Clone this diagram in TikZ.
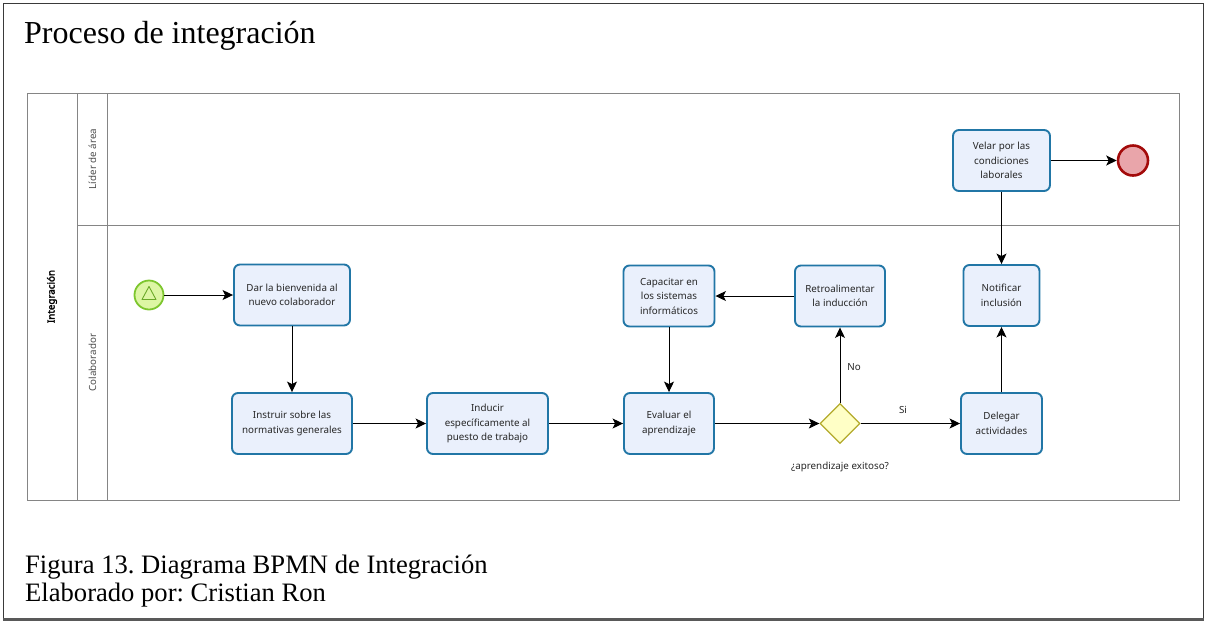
\documentclass[tikz,border=0pt]{standalone}
\usepackage{fontspec}
\setmainfont{Liberation Serif}
\newfontfamily\bpmnfont{Noto Sans}
\newfontfamily\bpmnbold[FakeBold=2.5]{Noto Sans}
\usetikzlibrary{shapes.geometric,arrows.meta,calc}

\definecolor{taskfill}{HTML}{EAF0FC}
\definecolor{taskline}{HTML}{2176A6}
\definecolor{startfill}{HTML}{DDF6A4}
\definecolor{startline}{HTML}{7DC62E}
\definecolor{endfill}{HTML}{E9A5AA}
\definecolor{endline}{HTML}{A30A0A}
\definecolor{gwfill}{HTML}{FFFFC6}
\definecolor{gwline}{HTML}{B3AA2A}
\definecolor{laneline}{HTML}{858585}
\definecolor{framecol}{HTML}{3A3A3A}

\tikzset{
  task/.style={draw=taskline, fill=taskfill, line width=1.9pt, rounded corners=6pt,
    align=center, inner sep=0pt, font=\bpmnfont\fontsize{9.8}{14.5}\selectfont,
    text=black!85},
  startev/.style={circle, draw=startline, fill=startfill, line width=1.8pt,
    minimum size=29pt, inner sep=0pt},
  endev/.style={circle, draw=endline, fill=endfill, line width=2.6pt,
    minimum size=30pt, inner sep=0pt},
  gateway/.style={diamond, draw=gwline, fill=gwfill, line width=1.3pt,
    minimum width=40pt, minimum height=40pt, inner sep=0pt},
  flow/.style={draw=black, line width=1pt,
    -{Stealth[length=10.5pt, width=10pt, inset=2.5pt]}},
  small/.style={font=\bpmnfont\fontsize{9.8}{12}\selectfont, text=black!85},
  lanelabel/.style={font=\bpmnfont\fontsize{9.8}{12}\selectfont, text=black!70, rotate=90},
  lane/.style={draw=laneline, line width=1pt},
}

\begin{document}
\frenchspacing
\begin{tikzpicture}[x=1pt, y=-1pt]
  \useasboundingbox (0,0) rectangle (1205,622);

  % outer frame
  \draw[framecol, line width=1.3pt] (3.5,3.5) rectangle (1203.5,619);
  \draw[black!65, line width=2.5pt] (3,619.5) -- (1204,619.5);

  % title and caption
  \node[anchor=base west, inner sep=0pt, font=\fontsize{32}{36}\selectfont] (title)
    at (24,43) {Proceso de integración};
  \node[anchor=base west, inner sep=0pt, font=\fontsize{26.6}{28.7}\selectfont] (cap1)
    at (25,573) {Figura 13. Diagrama BPMN de Integración};
  \node[anchor=base west, inner sep=0pt, font=\fontsize{26.6}{28.7}\selectfont] (cap2)
    at (25,601.5) {Elaborado por: Cristian Ron};

  % pool and lanes
  \draw[lane] (27,93) rectangle (1179,500.5);
  \draw[lane] (77.5,93) -- (77.5,500.5);
  \draw[lane] (107.5,93) -- (107.5,500.5);
  \draw[lane] (77.5,225) -- (1179,225);

  \node[lanelabel, font=\bpmnbold\fontsize{9.8}{12}\selectfont, text=black] (pool)
    at (52,296.5) {Integración};
  \node[lanelabel] (lane1) at (92.5,159) {Líder de área};
  \node[lanelabel] (lane2) at (92.5,362.5) {Colaborador};

  % events and gateway
  \node[startev] (start) at (149,295) {};
  \draw[startline!85!black, line width=0.9pt, line join=round]
    ($(start.center)+(0,-8.5)$) -- ++(7,13) -- ++(-14,0) -- cycle;
  \node[endev] (finish) at (1133,160.5) {};
  \node[gateway] (gw) at (840,423.5) {};

  % tasks
  \node[task, minimum width=116pt, minimum height=61pt] (t1) at (292,295)
    {Dar la bienvenida al\\nuevo colaborador};
  \node[task, minimum width=120pt, minimum height=61pt] (t2) at (292,423.5)
    {Instruir sobre las\\normativas generales};
  \node[task, minimum width=121pt, minimum height=61pt] (t3) at (487.5,423.5)
    {Inducir\\específicamente al\\puesto de trabajo};
  \node[task, minimum width=90pt, minimum height=61pt] (t4) at (669,423.5)
    {Evaluar el\\aprendizaje};
  \node[task, minimum width=91pt, minimum height=61pt] (t5) at (669,296)
    {Capacitar en\\los sistemas\\informáticos};
  \node[task, minimum width=90pt, minimum height=61pt] (t6) at (840,296)
    {Retroalimentar\\la inducción};
  \node[task, minimum width=76pt, minimum height=61pt] (t7) at (1001.5,295.5)
    {Notificar\\inclusión};
  \node[task, minimum width=81pt, minimum height=61pt] (t8) at (1001.5,423.5)
    {Delegar\\actividades};
  \node[task, minimum width=97pt, minimum height=61pt] (t9) at (1001.5,160.5)
    {Velar por las\\condiciones\\laborales};

  % sequence flows
  \draw[flow] (start) -- (t1);
  \draw[flow] (t1) -- (t2);
  \draw[flow] (t2) -- (t3);
  \draw[flow] (t3) -- (t4);
  \draw[flow] (t4) -- (gw);
  \draw[flow] (gw) -- (t8);
  \draw[flow] (gw) -- (t6);
  \draw[flow] (t6) -- (t5);
  \draw[flow] (t5) -- (t4);
  \draw[flow] (t8) -- (t7);
  \draw[flow] (t9) -- (t7);
  \draw[flow] (t9) -- (finish);

  % labels
  \node[small] (lsi) at (903,410) {Si};
  \node[small] (lno) at (854,367) {No};
  \node[small] (lgw) at (840,467) {¿aprendizaje exitoso?};
\end{tikzpicture}
\end{document}
